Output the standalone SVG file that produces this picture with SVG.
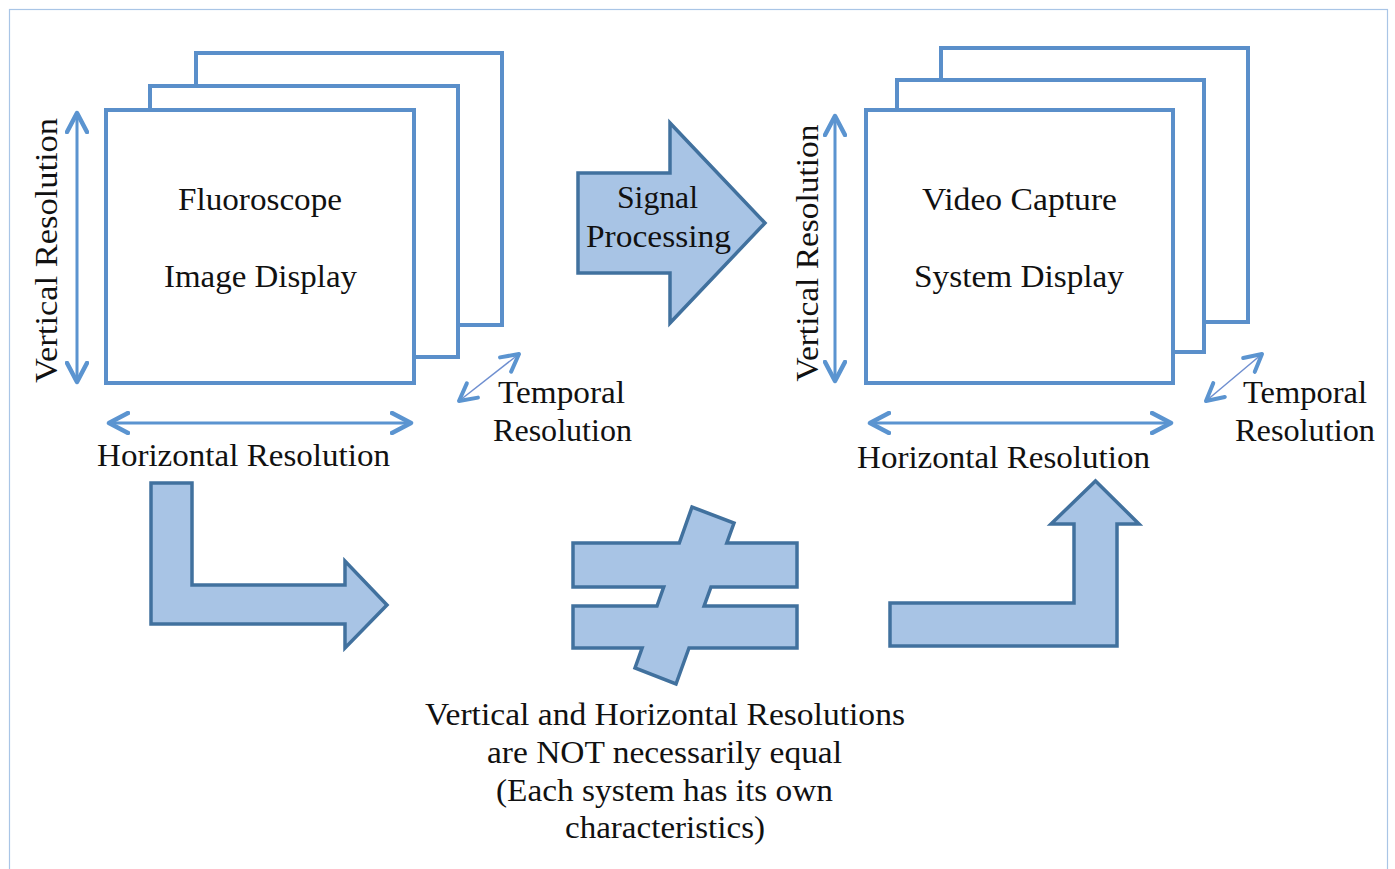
<svg xmlns="http://www.w3.org/2000/svg" width="1395" height="869" viewBox="0 0 1395 869">
<defs>
<style>
.frame{fill:#fff;stroke:#5a8fca;stroke-width:4}
.dim{stroke:#5b94d0;stroke-width:3;fill:none}
.tdim{stroke:#6f8fd0;stroke-width:1.5;fill:none}
.block{fill:#a8c4e5;stroke:#41719e;stroke-width:3.5;stroke-linejoin:miter}
text{font-family:"Liberation Serif","Times New Roman",serif;fill:#111;font-size:31px;text-anchor:middle}
</style>
<marker id="head" viewBox="0 0 24 24" refX="21" refY="12" markerWidth="24" markerHeight="24" markerUnits="userSpaceOnUse" orient="auto-start-reverse">
<path d="M2,2 L21,12 L2,22" fill="none" stroke="#5b94d0" stroke-width="4.5" stroke-linecap="round" stroke-linejoin="round"/>
</marker>
<marker id="thead" viewBox="0 0 24 24" refX="21" refY="12" markerWidth="24" markerHeight="24" markerUnits="userSpaceOnUse" orient="auto-start-reverse">
<path d="M4,3 L21,12 L4,21" fill="none" stroke="#5b94d0" stroke-width="4" stroke-linecap="round" stroke-linejoin="round"/>
</marker>
</defs>
<rect x="0" y="0" width="1395" height="869" fill="#fff"/>
<rect x="9.5" y="9.5" width="1378" height="900" fill="none" stroke="#a9c5e6" stroke-width="1.2"/>

<g id="fluoroscope">
<rect class="frame" x="196" y="53" width="306" height="272"/>
<rect class="frame" x="150" y="86" width="308" height="271"/>
<rect class="frame" x="106" y="110" width="308" height="273"/>
<text x="260" y="210" textLength="164" lengthAdjust="spacingAndGlyphs">Fluoroscope</text>
<text x="260.5" y="287" textLength="193" lengthAdjust="spacingAndGlyphs">Image Display</text>
</g>

<g id="video-capture">
<rect class="frame" x="941" y="48" width="307" height="274"/>
<rect class="frame" x="897" y="80" width="307" height="272"/>
<rect class="frame" x="866" y="110" width="307" height="273"/>
<text x="1019.5" y="210" textLength="195" lengthAdjust="spacingAndGlyphs">Video Capture</text>
<text x="1019" y="287" textLength="210" lengthAdjust="spacingAndGlyphs">System Display</text>
</g>

<g id="signal-processing">
<path class="block" d="M578,173 L670,173 L670,123 L765,223 L670,323 L670,273 L578,273 Z"/>
<text x="657.5" y="208" textLength="81" lengthAdjust="spacingAndGlyphs">Signal</text>
<text x="658.5" y="247" textLength="145" lengthAdjust="spacingAndGlyphs">Processing</text>
</g>

<g id="not-equal">
<path class="block" d="M573,543 L679.3,543 L692,507 L734,523 L726.8,543 L797,543 L797,587 L711,587 L704.1,606 L797,606 L797,648 L689,648 L676,684 L635,668 L642.1,648 L573,648 L573,606 L657,606 L663.7,587 L573,587 Z"/>
</g>

<g id="labels">
<text transform="translate(57,250.5) rotate(-90)" textLength="265" lengthAdjust="spacingAndGlyphs">Vertical Resolution</text>
<text transform="translate(818,253) rotate(-90)" textLength="257" lengthAdjust="spacingAndGlyphs">Vertical Resolution</text>
<text x="243.5" y="466" textLength="293" lengthAdjust="spacingAndGlyphs">Horizontal Resolution</text>
<text x="1003.5" y="468" textLength="293" lengthAdjust="spacingAndGlyphs">Horizontal Resolution</text>
<text x="561.5" y="403" textLength="127" lengthAdjust="spacingAndGlyphs">Temporal</text>
<text x="562.5" y="441" textLength="139" lengthAdjust="spacingAndGlyphs">Resolution</text>
<text x="1305" y="403" textLength="124" lengthAdjust="spacingAndGlyphs">Temporal</text>
<text x="1305" y="441" textLength="140" lengthAdjust="spacingAndGlyphs">Resolution</text>
<text x="665" y="725" textLength="480" lengthAdjust="spacingAndGlyphs">Vertical and Horizontal Resolutions</text>
<text x="664.5" y="763" textLength="355" lengthAdjust="spacingAndGlyphs">are NOT necessarily equal</text>
<text x="664.5" y="801" textLength="337" lengthAdjust="spacingAndGlyphs">(Each system has its own</text>
<text x="665" y="838" textLength="200" lengthAdjust="spacingAndGlyphs">characteristics)</text>
</g>

<g id="connectors">
<line class="dim" x1="77" y1="113" x2="77" y2="382" marker-start="url(#head)" marker-end="url(#head)"/>
<line class="dim" x1="109" y1="423" x2="411" y2="423" marker-start="url(#head)" marker-end="url(#head)"/>
<line class="tdim" x1="459" y1="401" x2="519" y2="354" marker-start="url(#thead)" marker-end="url(#thead)"/>
<line class="dim" x1="835" y1="116" x2="835" y2="381" marker-start="url(#head)" marker-end="url(#head)"/>
<line class="dim" x1="870" y1="423" x2="1171" y2="423" marker-start="url(#head)" marker-end="url(#head)"/>
<line class="tdim" x1="1206" y1="401" x2="1262" y2="354" marker-start="url(#thead)" marker-end="url(#thead)"/>
<path class="block" d="M151,483 L192,483 L192,585 L345,585 L345,561 L387,605 L345,648 L345,624 L151,624 Z"/>
<path class="block" d="M890,603 L1074,603 L1074,524 L1051,524 L1095.5,481 L1139,524 L1117,524 L1117,646 L890,646 Z"/>
</g>
</svg>
